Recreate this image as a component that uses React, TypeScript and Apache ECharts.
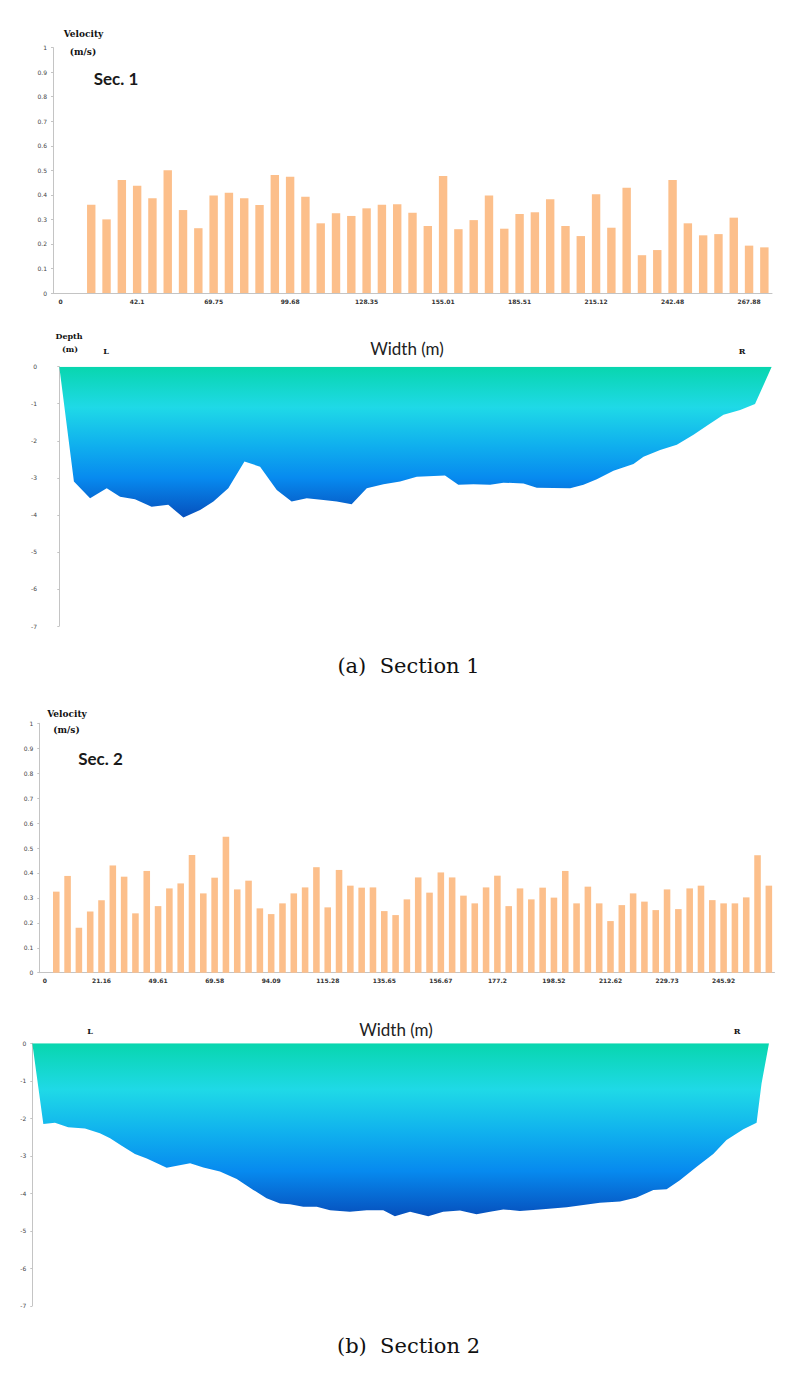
import React, { useEffect, useRef } from "react";
import * as echarts from "echarts";

// ---------- Data ----------
const sec1TickLabels = ["0", "42.1", "69.75", "99.68", "128.35", "155.01", "185.51", "215.12", "242.48", "267.88"];
const sec1Velocity = [
  0, 0, 0.36, 0.3, 0.46, 0.437, 0.386, 0.5, 0.338, 0.264, 0.397, 0.409, 0.386, 0.359, 0.481, 0.474, 0.392,
  0.284, 0.325, 0.314, 0.345, 0.36, 0.362, 0.327, 0.273, 0.477, 0.26, 0.297, 0.397, 0.262, 0.322, 0.329,
  0.382, 0.273, 0.232, 0.402, 0.266, 0.429, 0.154, 0.175, 0.46, 0.284, 0.235, 0.24, 0.307, 0.193, 0.186,
];

const sec2TickLabels = ["0", "21.16", "49.61", "69.58", "94.09", "115.28", "135.65", "156.67", "177.2", "198.52", "212.62", "229.73", "245.92"];
const sec2Velocity = [
  0, 0.325, 0.388, 0.18, 0.245, 0.29, 0.43, 0.385, 0.238, 0.408, 0.267, 0.338, 0.358, 0.472, 0.318, 0.381,
  0.545, 0.334, 0.369, 0.258, 0.235, 0.278, 0.318, 0.342, 0.423, 0.262, 0.412, 0.349, 0.341, 0.342, 0.247,
  0.231, 0.294, 0.382, 0.321, 0.402, 0.382, 0.309, 0.278, 0.342, 0.389, 0.267, 0.338, 0.294, 0.341, 0.301,
  0.408, 0.278, 0.345, 0.278, 0.207, 0.271, 0.318, 0.285, 0.251, 0.334, 0.255, 0.338, 0.349, 0.291, 0.278,
  0.278, 0.302, 0.471, 0.349,
];

// [width (m), depth (m)]
const sec1Width = [0, 5.7, 12.0, 18.5, 23.7, 29.5, 36.0, 42.5, 48.4, 54.9, 60.1, 65.9, 72.2, 78.3, 84.8, 90.6, 96.5, 103.0, 108.2, 114.0, 119.9, 126.4, 132.9, 139.4, 150.4, 155.6, 161.5, 168.0, 173.2, 181.0, 186.2, 199.2, 204.4, 209.6, 216.1, 223.9, 227.8, 234.3, 240.8, 247.3, 253.1, 259.0, 265.5, 271.3, 277.8];
const sec1Depth = [0, -3.1, -3.55, -3.28, -3.51, -3.58, -3.78, -3.73, -4.07, -3.87, -3.64, -3.28, -2.56, -2.7, -3.33, -3.64, -3.55, -3.6, -3.64, -3.71, -3.28, -3.17, -3.1, -2.97, -2.94, -3.19, -3.17, -3.19, -3.13, -3.15, -3.27, -3.28, -3.19, -3.04, -2.81, -2.63, -2.43, -2.25, -2.11, -1.84, -1.57, -1.3, -1.17, -1.01, 0];

const sec2Width = [0, 4.0, 8.2, 13.0, 19.1, 24.5, 28.2, 32.4, 37.2, 41.5, 48.7, 52.9, 57.2, 62.0, 68.0, 74.1, 80.1, 84.9, 89.8, 93.4, 98.2, 103.1, 107.9, 115.1, 121.2, 127.2, 131.4, 136.9, 143.5, 148.9, 155.0, 161.0, 165.9, 170.7, 176.7, 184.0, 193.7, 199.7, 205.7, 213.0, 219.0, 225.1, 229.9, 234.7, 240.8, 246.8, 251.6, 257.7, 262.5, 264.3, 267.0];
const sec2Depth = [0, -2.15, -2.12, -2.24, -2.27, -2.4, -2.53, -2.73, -2.95, -3.07, -3.32, -3.26, -3.2, -3.31, -3.42, -3.62, -3.91, -4.13, -4.27, -4.29, -4.36, -4.36, -4.45, -4.49, -4.45, -4.45, -4.61, -4.49, -4.61, -4.49, -4.46, -4.56, -4.49, -4.43, -4.47, -4.43, -4.37, -4.31, -4.25, -4.22, -4.11, -3.91, -3.89, -3.65, -3.29, -2.95, -2.58, -2.29, -2.12, -1.07, 0];

// ---------- Styles ----------
const BAR_COLOR = "#FCBF8B";
const AXIS_GREY = "#c4c4c4";
const SANS = "Lato, 'Liberation Sans', sans-serif";
const SERIF = "'DejaVu Serif', 'Liberation Serif', serif";

const waterGradient = () =>
  new echarts.graphic.LinearGradient(0, 0, 0, 1, [
    { offset: 0, color: "#08d6ae" },
    { offset: 0.27, color: "#1fd9e7" },
    { offset: 0.52, color: "#10b0ee" },
    { offset: 0.74, color: "#078aef" },
    { offset: 1, color: "#0650bd" },
  ]);

const velYAxis = (gridIndex: number) => ({
  type: "value",
  gridIndex,
  min: 0,
  max: 1,
  interval: 0.1,
  axisLine: { show: true, lineStyle: { color: AXIS_GREY, width: 1 } },
  axisTick: { show: true, length: 2, lineStyle: { color: AXIS_GREY } },
  splitLine: { show: false },
  axisLabel: { fontSize: 6, color: "#444", margin: 6, fontFamily: "DejaVu Sans" },
});

const velXAxis = (gridIndex: number, n: number, labels: string[]) => ({
  type: "category",
  gridIndex,
  data: Array.from({ length: n }, (_, i) => String(i)),
  axisLine: { show: true, lineStyle: { color: AXIS_GREY, width: 1 } },
  axisTick: { show: false },
  axisLabel: {
    interval: 4,
    fontSize: 6,
    fontWeight: "bold",
    color: "#333",
    margin: 5,
    fontFamily: "DejaVu Sans",
    formatter: (v: string) => {
      const i = parseInt(v, 10);
      return i % 5 === 0 && labels[i / 5] !== undefined ? labels[i / 5] : "";
    },
  },
});

const depthYAxis = (gridIndex: number, offset: number) => ({
  type: "value",
  gridIndex,
  min: -7,
  max: 0,
  interval: 1,
  offset,
  axisLine: { show: true, lineStyle: { color: AXIS_GREY, width: 1 } },
  axisTick: { show: true, length: 2, lineStyle: { color: AXIS_GREY } },
  splitLine: { show: false },
  axisLabel: { fontSize: 6, color: "#444", margin: 6, fontFamily: "DejaVu Sans" },
});

const depthXAxis = (gridIndex: number, max: number) => ({
  type: "value",
  gridIndex,
  min: 0,
  max,
  show: false,
  splitLine: { show: false },
});

const txt = (x: number, y: number, text: string, fontSize: number, fontFamily: string, fontWeight: string = "normal", fill = "#1a1a1a") => ({
  type: "text",
  x,
  y,
  style: { text, fontSize, fontFamily, fontWeight, fill, align: "center", verticalAlign: "middle" },
});

export default function App() {
  const ref = useRef<HTMLDivElement>(null);

  useEffect(() => {
    if (!ref.current) return;
    const chart = echarts.init(ref.current, undefined, { renderer: "svg" });

    const option: any = {
      animation: false,
      backgroundColor: "#ffffff",
      grid: [
        { left: 53, top: 47.6, width: 719, height: 245.4 },
        { left: 59.3, top: 366.7, width: 712.4, height: 259.3 },
        { left: 39.3, top: 723.3, width: 735.2, height: 249.4 },
        { left: 32.3, top: 1043.3, width: 736.7, height: 262.5 },
      ],
      xAxis: [
        velXAxis(0, sec1Velocity.length, sec1TickLabels),
        depthXAxis(1, 277.8),
        velXAxis(2, sec2Velocity.length, sec2TickLabels),
        depthXAxis(3, 267.0),
      ],
      yAxis: [velYAxis(0), depthYAxis(1, 16.3), velYAxis(2), depthYAxis(3, 0)],
      series: [
        {
          type: "bar",
          xAxisIndex: 0,
          yAxisIndex: 0,
          data: sec1Velocity,
          barWidth: "55%",
          itemStyle: { color: BAR_COLOR },
        },
        {
          type: "line",
          xAxisIndex: 1,
          yAxisIndex: 1,
          data: sec1Width.map((w, i) => [w, sec1Depth[i]]),
          symbol: "none",
          lineStyle: { width: 0, opacity: 0 },
          areaStyle: { color: waterGradient(), opacity: 1 },
        },
        {
          type: "bar",
          xAxisIndex: 2,
          yAxisIndex: 2,
          data: sec2Velocity,
          barWidth: "58%",
          itemStyle: { color: BAR_COLOR },
        },
        {
          type: "line",
          xAxisIndex: 3,
          yAxisIndex: 3,
          data: sec2Width.map((w, i) => [w, sec2Depth[i]]),
          symbol: "none",
          lineStyle: { width: 0, opacity: 0 },
          areaStyle: { color: waterGradient(), opacity: 1 },
        },
      ],
      graphic: [
        // Section 1 velocity
        txt(83.5, 34, "Velocity", 9, SERIF, "bold", "#111"),
        txt(83, 52, "(m/s)", 9, SERIF, "bold", "#111"),
        txt(116, 78, "Sec. 1", 17, SANS, "bold", "#1a1a1a"),
        // Section 1 depth
        txt(69, 336, "Depth", 8, SERIF, "bold", "#111"),
        txt(70, 349, "(m)", 8, SERIF, "bold", "#111"),
        txt(106, 351, "L", 8, SERIF, "bold", "#111"),
        txt(742, 351, "R", 8, SERIF, "bold", "#111"),
        txt(407, 348, "Width (m)", 17, SANS, "normal", "#222"),
        // Section 2 velocity
        txt(67, 714, "Velocity", 9, SERIF, "bold", "#111"),
        txt(66.5, 730, "(m/s)", 9, SERIF, "bold", "#111"),
        txt(100.5, 758, "Sec. 2", 17, SANS, "bold", "#1a1a1a"),
        // Section 2 depth
        txt(90, 1031, "L", 8, SERIF, "bold", "#111"),
        txt(737, 1031, "R", 8, SERIF, "bold", "#111"),
        txt(396, 1029, "Width (m)", 17, SANS, "normal", "#222"),
        // Captions
        txt(408.5, 666, "(a)  Section 1", 21, SERIF, "normal", "#111"),
        txt(408.5, 1346, "(b)  Section 2", 21, SERIF, "normal", "#111"),
      ],
    };

    chart.setOption(option);
    return () => chart.dispose();
  }, []);

  return (
    <div
      ref={ref}
      style={{ position: "absolute", left: 0, top: 0, width: 807, height: 1379, background: "#fff" }}
    />
  );
}
